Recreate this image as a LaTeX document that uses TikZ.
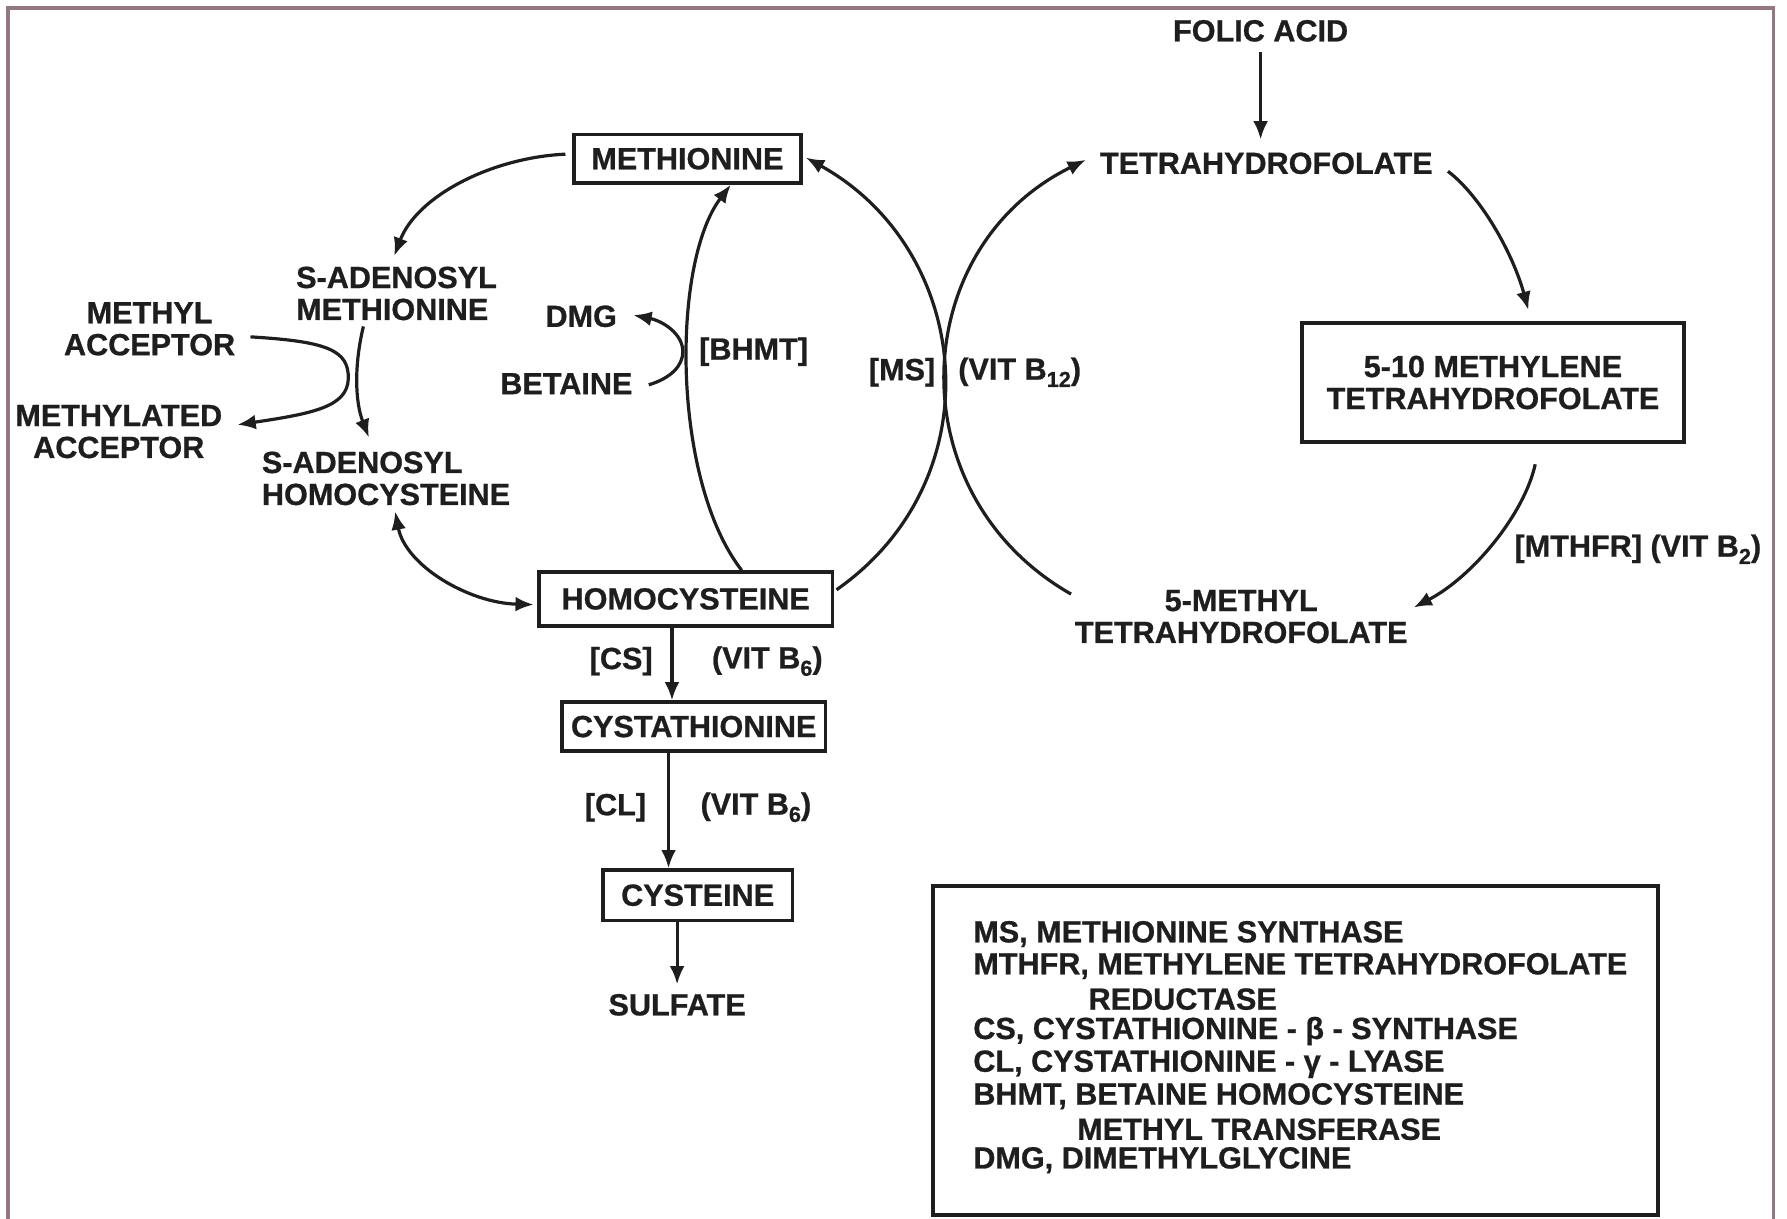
\documentclass[tikz,border=0pt]{standalone}
\usepackage{fontspec}
\setmainfont{Liberation Sans}[BoldFeatures={FakeBold=0.8}]
\usetikzlibrary{arrows.meta,calc}
\definecolor{ink}{HTML}{1E1E1E}
\definecolor{framec}{HTML}{957780}
\newcommand\lowsub[1]{\raisebox{-0.45ex}{\fontsize{9.5}{9.5}\selectfont #1}}
\begin{document}
\begin{tikzpicture}[x=0.5pt,y=-0.5pt,
  lbl/.style={font=\fontsize{13.4}{14}\selectfont\bfseries, text=ink, inner sep=1pt, align=center},
  box/.style={lbl, draw=ink, line width=1.6pt, inner sep=0pt},
  arr/.style={draw=ink, line width=1.4pt, -{Latex[length=8pt,width=6.5pt]}},
  darr/.style={draw=ink, line width=1.4pt, {Latex[length=8pt,width=6.5pt]}-{Latex[length=8pt,width=6.5pt]}},
  legtxt/.style={lbl, anchor=west}]
\useasboundingbox (0,0) rectangle (1565,1067);
\draw[framec, line width=1.4pt] (7,1070) -- (7,7) -- (1553,7) -- (1553,1070);

% nodes
\node[lbl] (folic) at (1104,27) {FOLIC ACID};
\node[lbl] (thf) at (1109,143) {TETRAHYDROFOLATE};
\node[box, minimum width=99.2pt, minimum height=21.2pt] (met) at (602,139) {METHIONINE};
\node[lbl, align=left, anchor=west] (sam) at (257,257) {S-ADENOSYL\\METHIONINE};
\node[lbl] (macc) at (131,288) {METHYL\\ACCEPTOR};
\node[lbl] (mdacc) at (104,378) {METHYLATED\\ACCEPTOR};
\node[lbl, align=left, anchor=west] (sah) at (227,419) {S-ADENOSYL\\HOMOCYSTEINE};
\node[lbl] (dmg) at (509,277) {DMG};
\node[lbl] (betaine) at (496,336) {BETAINE};
\node[lbl] (bhmt) at (660,308) {[BHMT]};
\node[lbl] (ms) at (790,326) {[MS]};
\node[lbl] (vb12) at (893,326) {(VIT B\lowsub{12})};
\node[box, minimum width=167.5pt, minimum height=52pt] (mthf10) at (1307.5,335) {5-10 METHYLENE\\TETRAHYDROFOLATE};
\node[lbl, anchor=west] (mthfr) at (1324,481) {[MTHFR] (VIT B\lowsub{2})};
\node[lbl] (mthf5) at (1087,540) {5-METHYL\\TETRAHYDROFOLATE};
\node[box, minimum width=128.5pt, minimum height=23.5pt] (hcy) at (600.5,524.5) {HOMOCYSTEINE};
\node[lbl] (cs) at (544,579) {[CS]};
\node[lbl] (vb6a) at (672,579) {(VIT B\lowsub{6})};
\node[box, minimum width=115.5pt, minimum height=21.3pt] (cysta) at (607.5,636.3) {CYSTATHIONINE};
\node[lbl] (cl) at (539,707) {[CL]};
\node[lbl] (vb6b) at (662,707) {(VIT B\lowsub{6})};
\node[box, minimum width=83pt, minimum height=22pt] (cys) at (611,784) {CYSTEINE};
\node[lbl] (sulfate) at (593,880) {SULFATE};

% legend
\node[draw=ink, line width=1.4pt, minimum width=317.5pt, minimum height=144pt, inner sep=0pt] (legend) at (1134.5,920) {};
\node[legtxt] (l1) at (850,818) {MS, METHIONINE SYNTHASE};
\node[legtxt] (l2) at (850,846) {MTHFR, METHYLENE TETRAHYDROFOLATE};
\node[legtxt] (l3) at (951,875) {REDUCTASE};
\node[legtxt] (l4) at (850,903) {CS, CYSTATHIONINE - β - SYNTHASE};
\node[legtxt] (l5) at (850,932) {CL, CYSTATHIONINE - γ - LYASE};
\node[legtxt] (l6) at (850,960) {BHMT, BETAINE HOMOCYSTEINE};
\node[legtxt] (l7) at (941,989) {METHYL TRANSFERASE};
\node[legtxt] (l8) at (850,1016) {DMG, DIMETHYLGLYCINE};

% connectors
\draw[arr] ($(met.west)+(-6,-4)$) .. controls (430,138) and (365,172) .. ($(sam.north)+(-2,-7)$);
\draw[arr] ($(sam.south)+(-29,3)$) .. controls (310,320) and (311,352) .. ($(sah.north)+(-15,-10)$);
\draw[arr] ($(macc.east)+(11,7)$) .. controls (285,299) and (306,306) .. (305,332) .. controls (304,356) and (275,362) .. ($(mdacc.east)+(11,-6)$);
\draw[darr] ($(sah.south)+(8,3)$) .. controls (355,495) and (410,528) .. ($(hcy.west)+(-3,5)$);
\draw[arr] ($(hcy.north)+(49,0)$) .. controls (588,420) and (588,230) .. ($(met.south)+(38,0)$);
\draw[arr] ($(betaine.east)+(12,1)$) .. controls (588,331) and (598,320) .. (598,308) .. controls (598,292) and (580,281) .. ($(dmg.east)+(12,-1)$);
\draw[arr] ($(hcy.east)+(2,-8)$) .. controls (872,419) and (852,219) .. ($(met.east)+(3,-1)$);
\draw[arr] ($(mthf5.north west)+(-1,6)$) .. controls (785,433) and (794,217) .. ($(thf.west)+(-10,-3)$);
\draw[arr] ($(folic.south)+(0,7)$) -- ($(folic.south |- thf.north)+(0,-9)$);
\draw[arr] ($(thf.east)+(11,7)$) .. controls (1297,172) and (1325,222) .. ($(mthf10.north)+(31,-10)$);
\draw[arr] ($(mthf10.south)+(37,18)$) .. controls (1335,450) and (1290,505) .. ($(mthf5.east)+(3,-8)$);
\draw[arr] ($(hcy.south)+(-12,0)$) -- ($(hcy.south |- cysta.north)+(-12,0)$);
\draw[arr] ($(cysta.south)+(-22,0)$) -- ($(cysta.south |- cys.north)+(-22,0)$);
\draw[arr] ($(cys.south)+(-18,0)$) -- ($(cys.south |- sulfate.north)+(-18,-6)$);
\end{tikzpicture}
\end{document}
